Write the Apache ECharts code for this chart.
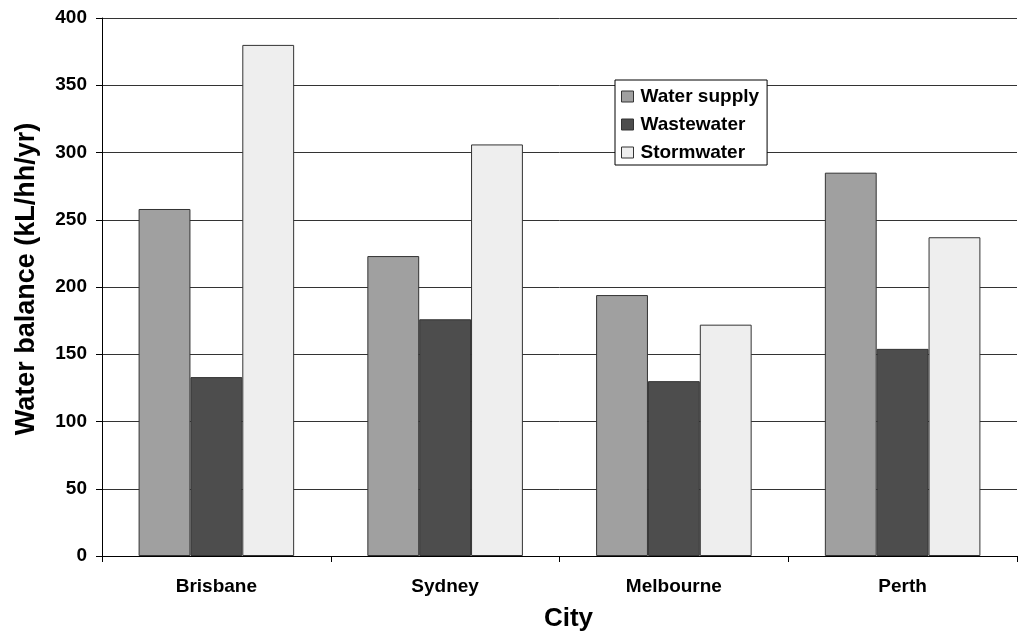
<!DOCTYPE html>
<html><head><meta charset="utf-8">
<script src="https://cdn.jsdelivr.net/npm/echarts@6/dist/echarts.min.js"></script>
<style>html,body{margin:0;padding:0;background:#fff}#c{width:1022px;height:632px}</style>
</head><body><div id="c"></div>
<script>
const categories = ['Brisbane', 'Sydney', 'Melbourne', 'Perth'];
const waterSupply = [258, 223, 194, 285];
const wastewater = [133, 176, 130, 154];
const stormwater = [380, 306, 172, 237];
const seriesNames = ['Water supply', 'Wastewater', 'Stormwater'];
const colors = ['#a0a0a0', '#4d4d4d', '#eeeeee'];
const font = 'Liberation Sans, Arial, sans-serif';
const chart = echarts.init(document.getElementById('c'));
const mk = (name, data, color) => ({
  name, type: 'bar', data, barGap: '0%', barCategoryGap: '32%',
  itemStyle: { color, borderColor: '#333', borderWidth: 1 },
  emphasis: { disabled: true }
});
chart.setOption({
  animation: false,
  textStyle: { fontFamily: font },
  grid: { left: 102, right: 5, top: 18, bottom: 76, containLabel: false, outerBoundsMode: 'none' },
  legend: {
    orient: 'vertical', left: 615, top: 80,
    data: seriesNames,
    itemWidth: 12, itemHeight: 11, itemGap: 9,
    padding: [7, 8, 3, 6],
    borderColor: '#000', borderWidth: 1, backgroundColor: '#fff',
    icon: 'rect',
    itemStyle: { borderColor: '#333', borderWidth: 1 },
    textStyle: { fontFamily: font, fontWeight: 'bold', fontSize: 19, color: '#000', padding: [0, 0, 0, 2] }
  },
  xAxis: {
    type: 'category', data: categories,
    name: 'City', nameLocation: 'middle', nameGap: 50,
    nameTextStyle: { fontFamily: font, fontWeight: 'bold', fontSize: 26, color: '#000', padding: [0, 0, 0, 18] },
    axisLine: { lineStyle: { color: '#000', width: 1 } },
    axisTick: { show: true, alignWithLabel: false, length: 6, lineStyle: { color: '#000' } },
    axisLabel: { fontFamily: font, fontWeight: 'bold', fontSize: 19, color: '#000', margin: 21 }
  },
  yAxis: {
    type: 'value', min: 0, max: 400, interval: 50,
    name: 'Water balance (kL/hh/yr)', nameLocation: 'middle', nameGap: 62,
    nameTextStyle: { fontFamily: font, fontWeight: 'bold', fontSize: 27, color: '#000', padding: [0, 0, 0, 16] },
    axisLine: { show: true, lineStyle: { color: '#000', width: 1 } },
    axisTick: { show: true, length: 6, lineStyle: { color: '#000' } },
    axisLabel: { fontFamily: font, fontWeight: 'bold', fontSize: 19, color: '#000', margin: 15 },
    splitLine: { show: true, lineStyle: { color: '#333', width: 1 } }
  },
  series: [
    mk(seriesNames[0], waterSupply, colors[0]),
    mk(seriesNames[1], wastewater, colors[1]),
    mk(seriesNames[2], stormwater, colors[2])
  ]
});
</script></body></html>
